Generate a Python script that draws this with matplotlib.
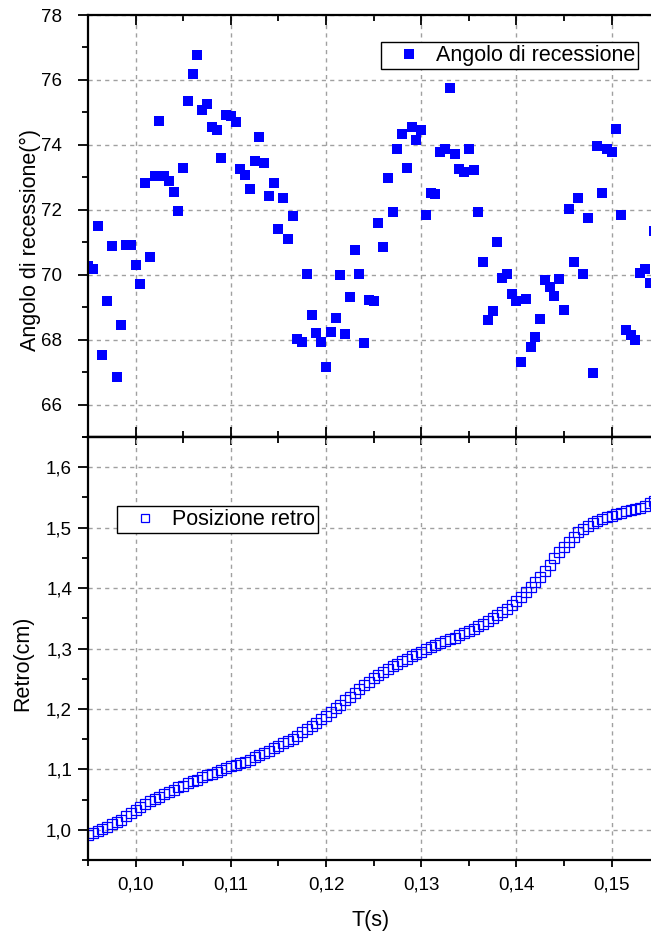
import matplotlib
matplotlib.use("Agg")
import matplotlib.pyplot as plt
from matplotlib.ticker import MultipleLocator, FuncFormatter

plt.rcParams["font.family"] = ["Liberation Sans", "DejaVu Sans"]

# tempi di campionamento (s)
t = [0.0950, 0.0955, 0.0960, 0.0965, 0.0970, 0.0975, 0.0980, 0.0985, 0.0990, 0.0995,
     0.1000, 0.1005, 0.1010, 0.1015, 0.1020, 0.1025, 0.1030, 0.1035, 0.1040, 0.1045,
     0.1050, 0.1055, 0.1060, 0.1065, 0.1070, 0.1075, 0.1080, 0.1085, 0.1090, 0.1095,
     0.1100, 0.1105, 0.1110, 0.1115, 0.1120, 0.1125, 0.1130, 0.1135, 0.1140, 0.1145,
     0.1150, 0.1155, 0.1160, 0.1165, 0.1170, 0.1175, 0.1180, 0.1185, 0.1190, 0.1195,
     0.1200, 0.1205, 0.1210, 0.1215, 0.1220, 0.1225, 0.1230, 0.1235, 0.1240, 0.1245,
     0.1250, 0.1255, 0.1260, 0.1265, 0.1270, 0.1275, 0.1280, 0.1285, 0.1290, 0.1295,
     0.1300, 0.1305, 0.1310, 0.1315, 0.1320, 0.1325, 0.1330, 0.1335, 0.1340, 0.1345,
     0.1350, 0.1355, 0.1360, 0.1365, 0.1370, 0.1375, 0.1380, 0.1385, 0.1390, 0.1395,
     0.1400, 0.1405, 0.1410, 0.1415, 0.1420, 0.1425, 0.1430, 0.1435, 0.1440, 0.1445,
     0.1450, 0.1455, 0.1460, 0.1465, 0.1470, 0.1475, 0.1480, 0.1485, 0.1490, 0.1495,
     0.1500, 0.1505, 0.1510, 0.1515, 0.1520, 0.1525, 0.1530, 0.1535, 0.1540, 0.1545]

# angolo di recessione (gradi)
angolo = [70.27, 70.17, 71.51, 67.53, 69.19, 70.89, 66.84, 68.44, 70.92, 70.92,
          70.29, 69.70, 72.83, 70.54, 73.04, 74.73, 73.04, 72.89, 72.56, 71.95,
          73.28, 75.35, 76.18, 76.76, 75.08, 75.25, 74.55, 74.47, 73.59, 74.93,
          74.88, 74.71, 73.25, 73.07, 72.64, 73.51, 74.23, 73.44, 72.42, 72.82,
          71.42, 72.35, 71.10, 71.82, 68.01, 67.93, 70.01, 68.75, 68.21, 67.93,
          67.16, 68.23, 68.67, 69.98, 68.16, 69.30, 70.76, 70.02, 67.89, 69.23,
          69.19, 71.58, 70.85, 72.99, 71.94, 73.87, 74.34, 73.30, 74.56, 74.14,
          74.45, 71.84, 72.51, 72.48, 73.77, 73.87, 75.76, 73.73, 73.25, 73.15,
          73.87, 73.22, 71.92, 70.40, 68.60, 68.89, 71.00, 69.89, 70.01, 69.40,
          69.19, 67.32, 69.25, 67.77, 68.07, 68.64, 69.84, 69.61, 69.34, 69.88,
          68.92, 72.01, 70.40, 72.37, 70.03, 71.74, 66.98, 73.97, 72.53, 73.87,
          73.79, 74.50, 71.84, 68.30, 68.14, 67.99, 70.06, 70.17, 69.75, 71.35]

# posizione retro (cm)
retro = [0.992, 0.995, 0.998, 1.001, 1.005, 1.009, 1.013, 1.017, 1.022, 1.027,
         1.032, 1.037, 1.042, 1.047, 1.051, 1.055, 1.059, 1.063, 1.066, 1.070,
         1.073, 1.077, 1.080, 1.083, 1.087, 1.090, 1.093, 1.096, 1.099, 1.102,
         1.105, 1.107, 1.110, 1.113, 1.116, 1.120, 1.123, 1.127, 1.131, 1.135,
         1.139, 1.143, 1.147, 1.151, 1.156, 1.161, 1.166, 1.171, 1.177, 1.183,
         1.189, 1.195, 1.201, 1.207, 1.214, 1.220, 1.227, 1.233, 1.239, 1.245,
         1.251, 1.256, 1.261, 1.266, 1.271, 1.275, 1.279, 1.283, 1.287, 1.291,
         1.295, 1.299, 1.302, 1.305, 1.309, 1.312, 1.315, 1.318, 1.322, 1.325,
         1.329, 1.333, 1.337, 1.341, 1.346, 1.351, 1.356, 1.361, 1.366, 1.372,
         1.378, 1.385, 1.393, 1.401, 1.410, 1.419, 1.429, 1.439, 1.449, 1.459,
         1.468, 1.477, 1.485, 1.492, 1.498, 1.503, 1.507, 1.511, 1.514, 1.517,
         1.520, 1.523, 1.525, 1.527, 1.529, 1.531, 1.533, 1.536, 1.540, 1.544]

blu = "#0000ff"
virgola = FuncFormatter(lambda v, p: ("%.2f" % v).replace(".", ","))

fig = plt.figure(figsize=(6.51, 9.33), dpi=100)
left, width = 88 / 651, 565 / 651
ax1 = fig.add_axes([left, 1 - 437 / 933, width, 422 / 933])
ax2 = fig.add_axes([left, 1 - 860 / 933, width, 423 / 933])

for ax in (ax1, ax2):
    ax.set_xlim(0.095, 0.095 + 565 / 9520)
    ax.xaxis.set_major_locator(MultipleLocator(0.01))
    ax.xaxis.set_minor_locator(MultipleLocator(0.005))
    ax.grid(True, which="major", color="#a0a0a0", linestyle=(0, (3, 3)), linewidth=1)
    for s in ax.spines.values():
        s.set_linewidth(1.6)
    ax.spines["right"].set_visible(False)
    ax.tick_params(axis="y", which="major", direction="out", length=7, width=1.3,
                   labelsize=13.5)
    ax.tick_params(axis="y", which="minor", direction="out", length=4.5, width=1.3)

legenda = dict(loc="upper left", fontsize=15.5, frameon=True, fancybox=False,
               edgecolor="black", framealpha=1, borderpad=0.15, handletextpad=0.1,
               handlelength=2.3, borderaxespad=0)

# pannello superiore
ax1.plot(t, angolo, "s", color=blu, markersize=6.7, markeredgewidth=0,
         label="Angolo di recessione")
ax1.set_ylim(65, 78)
ax1.yaxis.set_major_locator(MultipleLocator(2))
ax1.yaxis.set_minor_locator(MultipleLocator(1))
ax1.tick_params(axis="y", which="major", pad=12)
ax1.tick_params(axis="x", which="both", direction="in", top=True, bottom=True,
                labelbottom=False, width=1.3)
ax1.tick_params(axis="x", which="major", length=7.5)
ax1.tick_params(axis="x", which="minor", length=4.5)
ax1.set_ylabel("Angolo di recessione(°)", fontsize=15.5)
ax1.yaxis.set_label_coords(-0.083, 0.467)
ax1.legend(bbox_to_anchor=(0.5186, 0.936), **legenda)

# pannello inferiore
ax2.plot(t, retro, "s", markerfacecolor="none", markeredgecolor=blu,
         markersize=6.5, markeredgewidth=0.9, label="Posizione retro")
ax2.set_ylim(0.95, 1.65)
ax2.yaxis.set_major_locator(MultipleLocator(0.1))
ax2.yaxis.set_minor_locator(MultipleLocator(0.05))
ax2.yaxis.set_major_formatter(FuncFormatter(lambda v, p: ("%.1f" % v).replace(".", ",")))
ax2.tick_params(axis="y", which="major", pad=4.5)
ax2.xaxis.set_major_formatter(virgola)
ax2.tick_params(axis="x", which="both", direction="out", width=1.3, labelsize=13.5, pad=7)
ax2.tick_params(axis="x", which="major", length=5)
ax2.tick_params(axis="x", which="minor", length=4)
sec = ax2.secondary_xaxis("top")
sec.xaxis.set_major_locator(MultipleLocator(0.01))
sec.xaxis.set_minor_locator(MultipleLocator(0.005))
sec.tick_params(axis="x", which="both", direction="in", labeltop=False, width=1.3)
sec.tick_params(axis="x", which="major", length=6)
sec.tick_params(axis="x", which="minor", length=4)
sec.spines["top"].set_linewidth(1.6)
ax2.set_xlabel("T(s)", fontsize=15.5, labelpad=12)
ax2.set_ylabel("Retro(cm)", fontsize=15.5)
ax2.yaxis.set_label_coords(-0.097, 0.466)
ax2.legend(bbox_to_anchor=(0.0513, 0.8369), markerscale=0.8, **legenda)

fig.savefig("out.png", dpi=100)
